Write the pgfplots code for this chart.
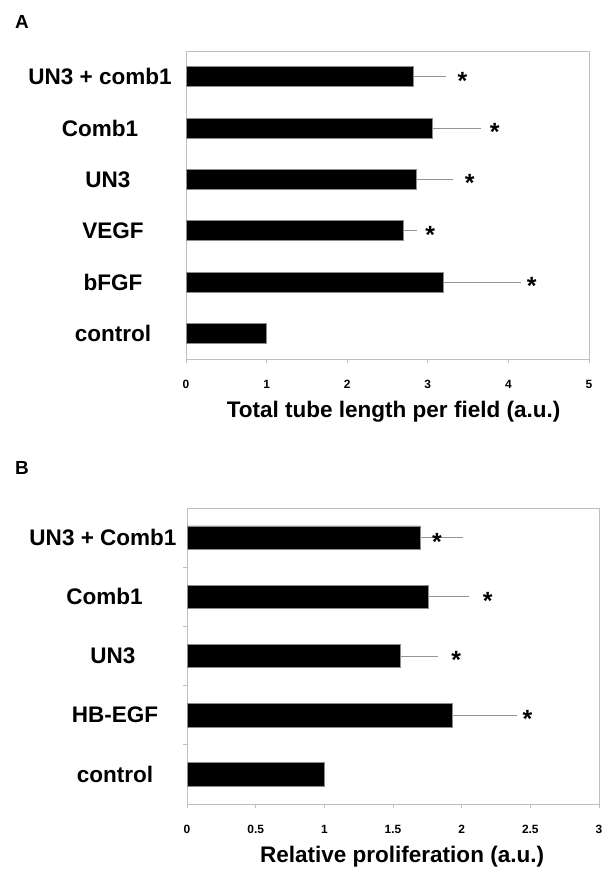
\documentclass[border=0pt]{standalone}
\usepackage{pgfplots}
\pgfplotsset{compat=1.18}
\usepackage{fontspec}
\setmainfont{Liberation Sans}
\definecolor{axgray}{RGB}{192,192,192}
\definecolor{errgray}{RGB}{150,150,150}
\newcommand{\lblfont}{\fontsize{22.6}{24}\selectfont\bfseries}
\newcommand{\tickfont}{\fontsize{12}{12}\selectfont\bfseries}
\pgfplotsset{
  common/.style={
    scale only axis, clip=false,
    axis line style={axgray, line width=0.8bp},
    tick align=outside, major tick length=4bp, minor tick length=4bp,
    xtick pos=left, ytick pos=left,
    x tick style={axgray, line width=0.8bp},
    major y tick style={draw=none},
    minor y tick style={axgray, line width=0.8bp},
    /pgf/number format/assume math mode=true,
    xticklabel style={font=\tickfont, anchor=base, yshift=-25bp},
    yticklabel style={font=\lblfont, anchor=center},
    xlabel style={font=\lblfont, anchor=base, yshift=-58bp},
  },
  barsty/.style={xbar, bar width=#1, fill=black, draw=black!45, line width=0.6bp,
    error bars/.cd, x dir=plus, x explicit, error mark=none,
    error bar style={errgray, line width=1bp}},
  starsty/.style={only marks, mark=none, nodes near coords={*},
    nodes near coords style={font=\fontsize{25}{25}\selectfont\bfseries, anchor=base, yshift=-12.5bp, black}},
}
\begin{document}
\begin{tikzpicture}
\path[use as bounding box] (0bp,0bp) rectangle (606bp,-876bp);
\node[font=\fontsize{19}{19}\selectfont\bfseries] at (22bp,-21.5bp) {A};
\node[font=\fontsize{19}{19}\selectfont\bfseries] at (22bp,-467.5bp) {B};

\begin{axis}[common,
  at={(186bp,-359bp)}, anchor=south west,
  width=403bp, height=308bp,
  xmin=0, xmax=5, ymin=-0.5, ymax=5.5,
  xtick={0,1,2,3,4,5},
  ytick={0,1,2,3,4,5},
  yticklabels={control, bFGF, VEGF, UN3\hspace*{10bp}, Comb1\hspace*{26bp}, UN3 + comb1\hspace*{26bp}},
  yticklabel style={xshift=-69bp},
  xlabel={Total tube length per field (a.u.)},
  xlabel style={at={(axis description cs:0.515,0)}},
]
\addplot[barsty=20bp] table[x=v, y=p, x error=e] {
p v e
5 2.82 0.41
4 3.05 0.61
3 2.86 0.45
2 2.69 0.18
1 3.19 0.97
0 1.00 0.00
};
\addplot[starsty] table[x=x, y=y] {
x y
3.43 5
3.83 4
3.52 3
3.03 2
4.29 1
};
\end{axis}

\begin{axis}[common,
  at={(187bp,-804bp)}, anchor=south west,
  width=412bp, height=296bp,
  xmin=0, xmax=3, ymin=-0.5, ymax=4.5,
  xtick={0,0.5,1,1.5,2,2.5,3},
  ytick={0,1,2,3,4},
  minor ytick={0.5,1.5,2.5,3.5},
  yticklabels={control, HB-EGF, UN3\hspace*{4bp}, Comb1\hspace*{21bp}, UN3 + Comb1\hspace*{24bp}},
  yticklabel style={xshift=-68bp},
  xlabel={Relative proliferation (a.u.)},
  xlabel style={at={(axis description cs:0.522,0)}},
]
\addplot[barsty=23.5bp] table[x=v, y=p, x error=e] {
p v e
4 1.70 0.31
3 1.76 0.29
2 1.55 0.28
1 1.93 0.47
0 1.00 0.00
};
\addplot[starsty] table[x=x, y=y] {
x y
1.82 4
2.19 3
1.96 2
2.48 1
};
\end{axis}
\end{tikzpicture}
\end{document}
